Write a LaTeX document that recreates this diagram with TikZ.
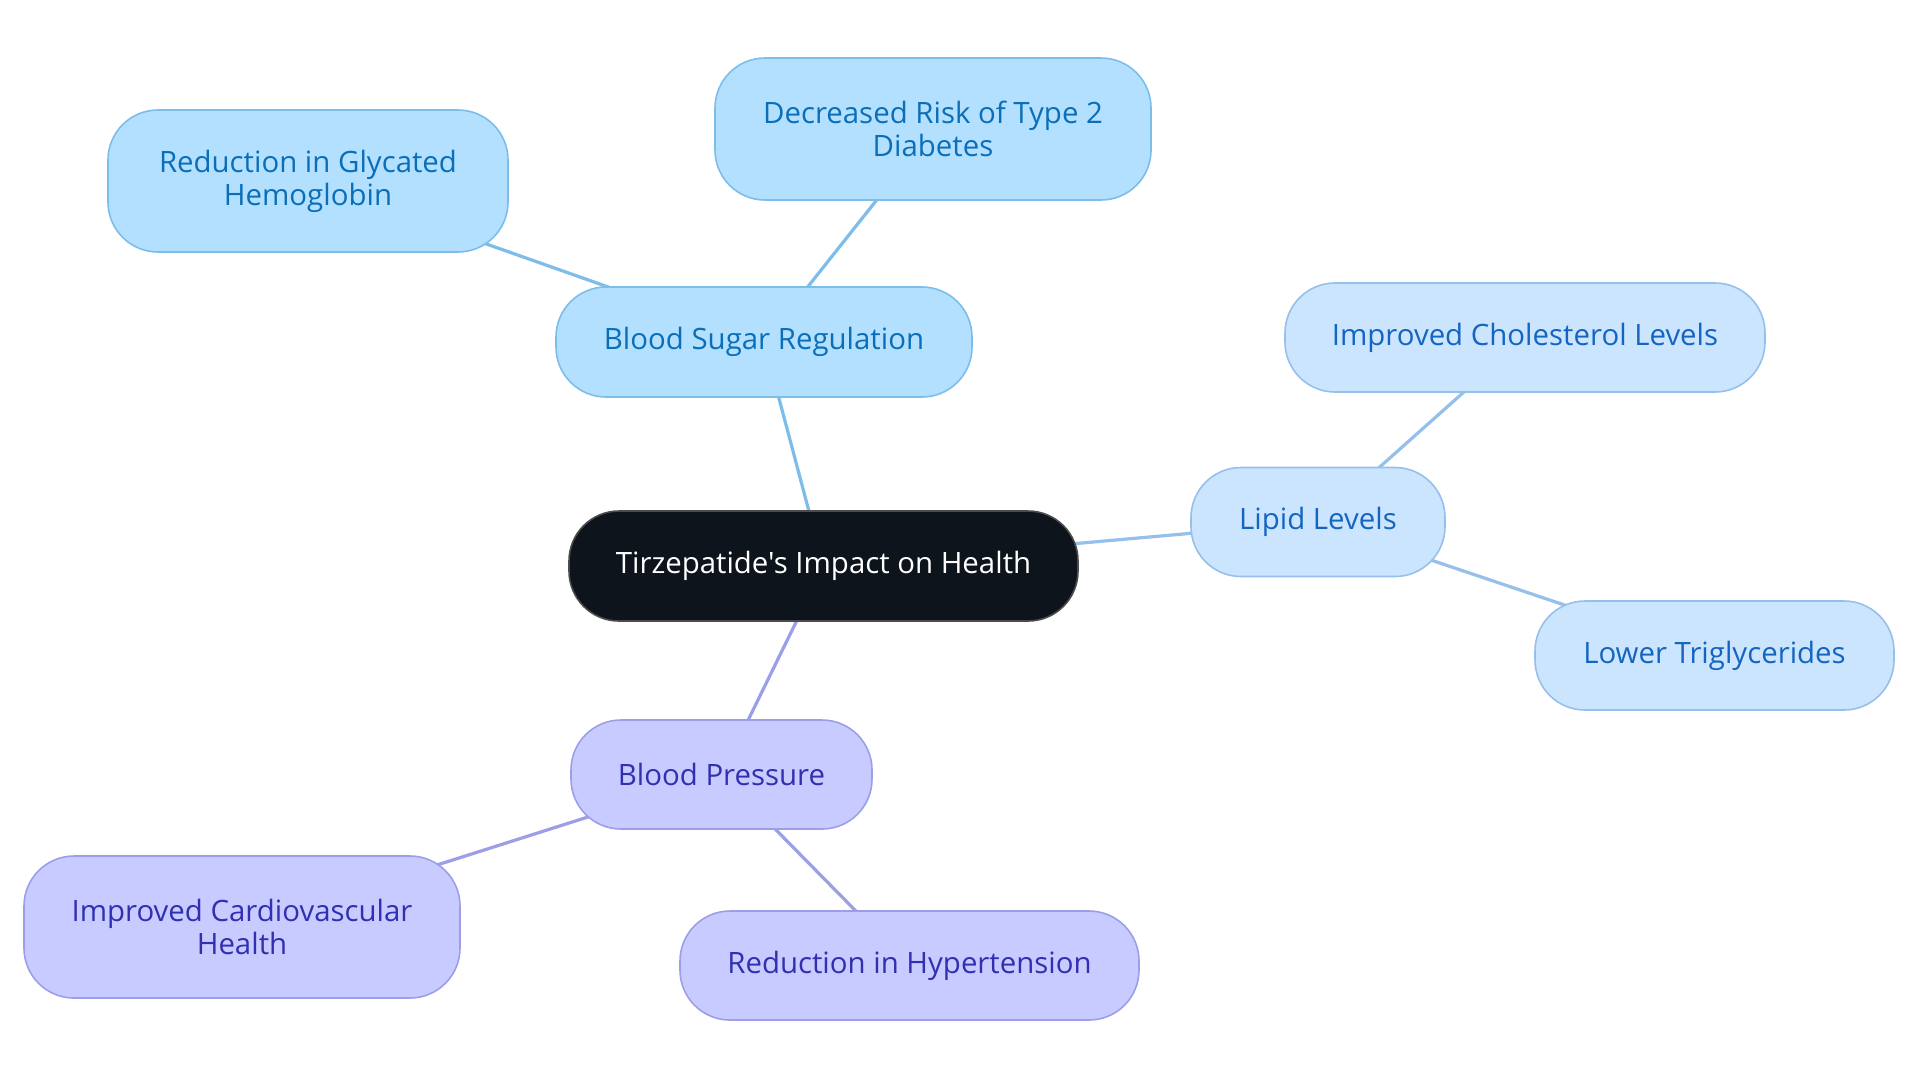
\documentclass[tikz,border=0pt]{standalone}
\usepackage{fontspec}
\newfontfamily\mainf{Open Sans}
\usetikzlibrary{positioning}
\pgfdeclarelayer{bg}
\pgfsetlayers{bg,main}
\definecolor{cfill}{HTML}{0D141B}
\definecolor{bfill}{HTML}{B3E0FF}
\definecolor{bline}{HTML}{7DBDEA}
\definecolor{btext}{HTML}{0B6EB8}
\definecolor{lfill}{HTML}{CCE5FF}
\definecolor{lline}{HTML}{96C0EC}
\definecolor{ltext}{HTML}{1565C0}
\definecolor{pfill}{HTML}{C8CBFF}
\definecolor{pline}{HTML}{9C9FE8}
\definecolor{ptext}{HTML}{3030B0}
\tikzset{
  box/.style={rounded corners=25pt, line width=0.8pt, align=center, inner sep=0pt,
    font=\mainf\fontsize{14.7}{16.5}\selectfont},
  central/.style={box, fill=cfill, draw=black!70, text=white},
  bbox/.style={box, fill=bfill, draw=bline, text=btext},
  lbox/.style={box, fill=lfill, draw=lline, text=ltext},
  pbox/.style={box, fill=pfill, draw=pline, text=ptext},
  bedge/.style={draw=bline, line width=1.6pt},
  ledge/.style={draw=lline, line width=1.6pt},
  pedge/.style={draw=pline, line width=1.6pt},
}
\begin{document}
\begin{tikzpicture}[x=0.5pt,y=-0.5pt]
\useasboundingbox (0,0) rectangle (1920,1083);
\node[central, minimum width=254.5pt, minimum height=55pt] (c) at (823.5,566) {Tirzepatide's Impact on Health};
\node[bbox, minimum width=208pt, minimum height=55pt] (bs) at (764,342) {Blood Sugar Regulation};
\node[bbox, minimum width=200pt, minimum height=71pt] (gh) at (308,181) {Reduction in Glycated\\Hemoglobin};
\node[bbox, minimum width=218pt, minimum height=71pt] (dr) at (933,129) {Decreased Risk of Type 2\\Diabetes};
\node[lbox, minimum width=127pt, minimum height=54.5pt] (ll) at (1318,522) {Lipid Levels};
\node[lbox, minimum width=240pt, minimum height=54.5pt] (ic) at (1525,337.5) {Improved Cholesterol Levels};
\node[lbox, minimum width=179.5pt, minimum height=54.5pt] (lt) at (1714.5,655.5) {Lower Triglycerides};
\node[pbox, minimum width=150.5pt, minimum height=54.5pt] (bp) at (721.5,774.5) {Blood Pressure};
\node[pbox, minimum width=218pt, minimum height=71pt] (cv) at (242,927) {Improved Cardiovascular\\Health};
\node[pbox, minimum width=229.5pt, minimum height=54.5pt] (ht) at (909.5,965.5) {Reduction in Hypertension};
\begin{pgfonlayer}{bg}
\fill[white] (0,0) rectangle (1920,1083);
\draw[bedge] (c.center) -- (bs.center);
\draw[bedge] (bs.center) -- (gh.center);
\draw[bedge] (bs.center) -- (dr.center);
\draw[ledge] (c.center) -- (ll.center);
\draw[ledge] (ll.center) -- (ic.center);
\draw[ledge] (ll.center) -- (lt.center);
\draw[pedge] (c.center) -- (bp.center);
\draw[pedge] (bp.center) -- (cv.center);
\draw[pedge] (bp.center) -- (ht.center);
\end{pgfonlayer}
\end{tikzpicture}
\end{document}
